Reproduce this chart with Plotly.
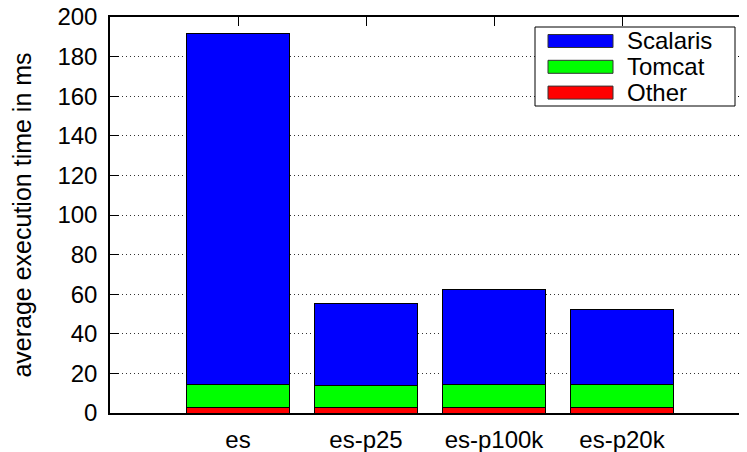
import plotly.graph_objects as go

# values (ms)
configs = ["es", "es-p25", "es-p100k", "es-p20k"]
other = [2.8, 2.6, 2.8, 2.8]
tomcat = [11.5, 11.4, 11.8, 11.8]
scalaris = [177.5, 41.2, 48.0, 37.8]

series = [
    ("Other", other, "#ff0000"),
    ("Tomcat", tomcat, "#00ff00"),
    ("Scalaris", scalaris, "#0000ff"),
]

FONT = "Liberation Sans, Arial, sans-serif"
FS = 24
# the page body has an 8px margin, so the figure is sized to the remaining window
OFF = 8
W, H = 747 - OFF, 452 - OFF
L, R, T, B = 110 - OFF, 0, 17 - OFF, 452 - 413

fig = go.Figure()
for name, vals, color in series:
    fig.add_trace(go.Bar(
        x=list(range(len(configs))),
        y=vals,
        name=name,
        width=0.8,
        marker=dict(color=color, line=dict(color="black", width=1)),
        showlegend=False,
    ))

# invisible helper trace: carries the top x ticks and the right y ticks
fig.add_trace(go.Scatter(x=[0], y=[0], xaxis="x2", yaxis="y2", mode="markers",
                         marker=dict(opacity=0), hoverinfo="skip", showlegend=False))

plot_w = W - L - R
plot_h = H - T - B
xr = [-1, -1 + plot_w / 128]
yticks = list(range(0, 201, 20))

fig.update_layout(
    width=W, height=H,
    margin=dict(l=L, r=R, t=T, b=B),
    barmode="stack",
    paper_bgcolor="white",
    plot_bgcolor="white",
    font=dict(family=FONT, size=FS, color="black"),
    xaxis=dict(
        range=xr, automargin=False,
        tickvals=list(range(len(configs))),
        ticktext=configs,
        ticks="",
        showline=True, linecolor="black", linewidth=1.5, mirror=True,
        showgrid=False, zeroline=False,
        ticklabelstandoff=4, ticklabeloverflow="allow",
    ),
    xaxis2=dict(
        range=xr, automargin=False, overlaying="x", side="top", anchor="y",
        tickvals=list(range(len(configs))),
        ticks="inside", ticklen=9, tickcolor="black",
        showticklabels=False, showline=False, showgrid=False, zeroline=False,
    ),
    yaxis=dict(
        range=[0, 200], automargin=False,
        tickvals=yticks,
        ticks="inside", ticklen=9, tickcolor="black",
        showline=True, linecolor="black", linewidth=1.5,
        showgrid=True, gridcolor="#333333", griddash="1px,3px", gridwidth=1,
        zeroline=False,
        ticklabelstandoff=6, ticklabeloverflow="allow",
        title=dict(text="average execution time in ms", standoff=20,
                   font=dict(family=FONT, size=25)),
    ),
    yaxis2=dict(
        range=[0, 200], automargin=False,
        tickvals=yticks,
        overlaying="y", side="right", anchor="x",
        ticks="inside", ticklen=9, tickcolor="black",
        showticklabels=False, showline=False, showgrid=False, zeroline=False,
    ),
)


# legend drawn by hand so the swatches are the wide boxes of the original
# (positions given in window pixels, converted to paper fractions)
def px_x(v):
    return (v - OFF - L) / plot_w


def px_y(v):
    return (H - B - (v - OFF)) / plot_h


shapes = [dict(type="rect", xref="paper", yref="paper",
               x0=px_x(535), x1=px_x(735), y0=px_y(106), y1=px_y(27),
               fillcolor="white", line=dict(color="black", width=1), layer="above")]
annotations = []
for i, (name, vals, color) in enumerate(reversed(series)):
    cy = 41 + i * 25.8
    shapes.append(dict(type="rect", xref="paper", yref="paper",
                       x0=px_x(548), x1=px_x(613), y0=px_y(cy + 6.5), y1=px_y(cy - 6.5),
                       fillcolor=color, line=dict(color="#333333", width=1), layer="above"))
    annotations.append(dict(xref="paper", yref="paper", x=px_x(625), y=px_y(cy),
                            text=name, showarrow=False, xanchor="left", yanchor="middle",
                            font=dict(family=FONT, size=FS, color="black")))
fig.update_layout(shapes=shapes, annotations=annotations)

fig.write_html("out.html")
